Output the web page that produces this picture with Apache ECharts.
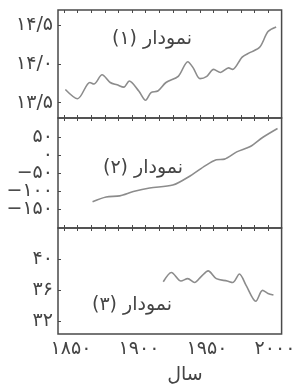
<!DOCTYPE html>
<html>
<head>
<meta charset="utf-8">
<script src="https://cdn.jsdelivr.net/npm/echarts@6/dist/echarts.min.js"></script>
<style>
  html, body { margin: 0; padding: 0; background: #fff; }
  #chart { width: 300px; height: 388px; }
</style>
</head>
<body>
<div id="chart"></div>
<script>
// panel 1
var years1 = [1851, 1860, 1869, 1872, 1878, 1884, 1889, 1894, 1898, 1905, 1910, 1914, 1919, 1925, 1934,
              1941, 1945, 1950, 1955, 1960, 1965, 1971, 1974, 1981, 1987, 1994, 2000, 2006];
var vals1 = [13.67, 13.55, 13.76, 13.74, 13.86, 13.76, 13.73, 13.70, 13.78, 13.65, 13.53, 13.63, 13.65, 13.76, 13.84,
             14.03, 13.95, 13.81, 13.84, 13.93, 13.89, 13.95, 13.93, 14.09, 14.15, 14.22, 14.42, 14.48];
// panel 2
var years2 = [1871, 1881, 1891, 1901, 1913, 1930, 1943, 1954, 1962, 1968, 1977, 1987, 1996, 2007];
var vals2 = [-130, -117, -114, -102, -92, -84, -58, -30, -14, -12, 8, 23, 48, 73];
// panel 3
var years3 = [1923, 1929, 1936, 1941, 1946, 1951, 1956, 1962, 1970, 1974, 1979, 1984, 1991, 1996, 2000, 2004];
var vals3 = [37.1, 38.3, 37.2, 37.5, 37.0, 37.8, 38.5, 37.5, 37.2, 37.0, 38.1, 36.6, 34.6, 36.0, 35.6, 35.4];

var yTicks1 = [13.5, 14.0, 14.5];
var yTicks2 = [-150, -100, -50, 0, 50];
var yTicks3 = [32, 36, 40];
var xTicks = [1850, 1860, 1870, 1880, 1890, 1900, 1910, 1920, 1930, 1940, 1950, 1960, 1970, 1980, 1990, 2000];
var xLabels = [1850, 1900, 1950, 2000];
var panelNames = ['نمودار (۱)', 'نمودار (۲)', 'نمودار (۳)'];
var xName = 'سال';

var faDigits = '۰۱۲۳۴۵۶۷۸۹';
function fa(s) {
    return String(s).replace(/\d/g, function (d) { return faDigits[d]; })
        .replace('.', '/').replace('-', '−');
}

var font = 'DejaVu Sans';
var fs = 19;
var txt = '#444';
var frame = '#4a4a4a';
var lineColor = '#8c8c8c';

function xAxisFor(grid, pos, labels) {
    return {
        type: 'value', gridIndex: grid, position: pos,
        min: 1845.6, max: 2010,
        axisLine: { show: false, onZero: false },
        splitLine: { show: false },
        axisTick: {
            show: !labels,
            inside: true, length: 3,
            customValues: xTicks,
            lineStyle: { color: frame, width: 1 }
        },
        axisLabel: {
            show: labels,
            customValues: xLabels,
            formatter: function (v) { return fa(v); },
            fontFamily: font, fontSize: fs, color: txt,
            margin: 6, padding: [0, 0, 0, 14]
        }
    };
}

function yAxisFor(grid, min, max, ticks, labels, fmt) {
    return {
        type: 'value', gridIndex: grid, min: min, max: max,
        axisLine: { show: false, onZero: false },
        splitLine: { show: false },
        axisTick: {
            show: ticks.length > 0,
            inside: true, length: 3,
            customValues: ticks,
            lineStyle: { color: frame, width: 1 }
        },
        axisLabel: {
            customValues: labels,
            formatter: fmt,
            fontFamily: font, fontSize: fs, color: txt,
            margin: 5
        }
    };
}

function faFmt(v) { return fa(v); }

var gridBase = { left: 58, right: 18.4, show: true, borderColor: frame, borderWidth: 1.5, backgroundColor: 'transparent' };

// panel 2 labels are split over two axes so none of them gets dropped for overlap
var labels2a = yTicks2.filter(function (v, i) { return i % 2 === 0; });
var labels2b = yTicks2.filter(function (v, i) { return i % 2 === 1; });

var option = {
    backgroundColor: '#fff',
    animation: false,
    grid: [
        Object.assign({ top: 10, height: 108 }, gridBase),
        Object.assign({ top: 118, height: 110 }, gridBase),
        Object.assign({ top: 228, height: 106 }, gridBase)
    ],
    xAxis: [
        xAxisFor(0, 'bottom', false), xAxisFor(0, 'top', false),
        xAxisFor(1, 'bottom', false), xAxisFor(1, 'top', false),
        xAxisFor(2, 'bottom', true), xAxisFor(2, 'top', false)
    ],
    yAxis: [
        yAxisFor(0, 13.3, 14.7, yTicks1, yTicks1, function (v) { return fa(v.toFixed(1)); }),
        yAxisFor(1, -203, 102, yTicks2, labels2a, faFmt),
        yAxisFor(2, 30.4, 44, yTicks3, yTicks3, faFmt),
        Object.assign(yAxisFor(1, -203, 102, [], labels2b, faFmt), { position: 'left' })
    ],
    series: [
        { type: 'line', xAxisIndex: 0, yAxisIndex: 0, data: years1.map(function (y, i) { return [y, vals1[i]]; }) },
        { type: 'line', xAxisIndex: 2, yAxisIndex: 1, data: years2.map(function (y, i) { return [y, vals2[i]]; }) },
        { type: 'line', xAxisIndex: 4, yAxisIndex: 2, data: years3.map(function (y, i) { return [y, vals3[i]]; }) }
    ].map(function (s) {
        s.showSymbol = false;
        s.smooth = 0.3;
        s.lineStyle = { color: lineColor, width: 1.6 };
        return s;
    }),
    graphic: [
        { type: 'text', x: 152, y: 39, style: { text: panelNames[0], font: fs + 'px "DejaVu Sans"', fill: txt, textAlign: 'center', textVerticalAlign: 'middle' } },
        { type: 'text', x: 143, y: 168, style: { text: panelNames[1], font: fs + 'px "DejaVu Sans"', fill: txt, textAlign: 'center', textVerticalAlign: 'middle' } },
        { type: 'text', x: 132, y: 305, style: { text: panelNames[2], font: fs + 'px "DejaVu Sans"', fill: txt, textAlign: 'center', textVerticalAlign: 'middle' } },
        { type: 'text', x: 185, y: 375, style: { text: xName, font: fs + 'px "DejaVu Sans"', fill: txt, textAlign: 'center', textVerticalAlign: 'middle' } }
    ]
};

var chart = echarts.init(document.getElementById('chart'));
chart.setOption(option);
</script>
</body>
</html>
